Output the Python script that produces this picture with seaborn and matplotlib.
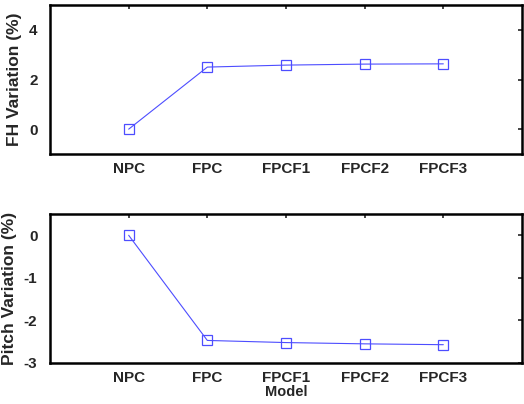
import matplotlib
matplotlib.use("Agg")
import matplotlib.pyplot as plt
import seaborn as sns
import numpy as np
import pandas as pd

# data
models = ["NPC", "FPC", "FPCF1", "FPCF2", "FPCF3"]
fh_variation = [0.0, 2.50, 2.58, 2.62, 2.63]
pitch_variation = [0.0, -2.47, -2.52, -2.55, -2.57]

sns.set_style("white")
plt.rcParams["font.family"] = ["Liberation Sans", "DejaVu Sans"]
plt.rcParams["font.weight"] = "bold"

pos = np.arange(1, len(models) + 1)
df = pd.DataFrame({"pos": pos, "model": models,
                   "fh": fh_variation, "pitch": pitch_variation})

fig = plt.figure(figsize=(5.24, 4.04), dpi=100)
ax1 = fig.add_axes([50 / 524, 1 - 154 / 404, 472 / 524, 149 / 404])
ax2 = fig.add_axes([50 / 524, 1 - 363 / 404, 472 / 524, 149 / 404])

blue = "#4d4dff"


def style(ax, ylabel, ylim, yticks):
    ax.set_xlim(0, 6)
    ax.set_ylim(*ylim)
    ax.set_xticks(pos)
    ax.set_xticklabels(models, fontsize=11, fontweight="bold")
    ax.set_yticks(yticks)
    ax.set_yticklabels([str(t) for t in yticks], fontsize=11, fontweight="bold")
    ax.tick_params(direction="in", top=True, right=True, length=3, width=1.2)
    ax.tick_params(axis="x", pad=6)
    ax.tick_params(axis="y", pad=9)
    ax.set_ylabel(ylabel, fontsize=12.5, fontweight="bold", labelpad=5)
    for side in ax.spines:
        ax.spines[side].set_linewidth(1.8)
        ax.spines[side].set_color("black")


sns.lineplot(data=df, x="pos", y="fh", ax=ax1, color=blue, linewidth=0.8,
             marker="s", markersize=7, markerfacecolor="none",
             markeredgecolor=blue, markeredgewidth=0.9)
style(ax1, "FH Variation (%)", (-1, 5), [0, 2, 4])
ax1.set_xlabel("")

sns.lineplot(data=df, x="pos", y="pitch", ax=ax2, color=blue, linewidth=0.8,
             marker="s", markersize=7, markerfacecolor="none",
             markeredgecolor=blue, markeredgewidth=0.9)
style(ax2, "Pitch Variation (%)", (-3, 0.5), [-3, -2, -1, 0])
ax2.set_xlabel("Model", fontsize=10.5, fontweight="bold", labelpad=0)

fig.savefig("out.png", dpi=100)
